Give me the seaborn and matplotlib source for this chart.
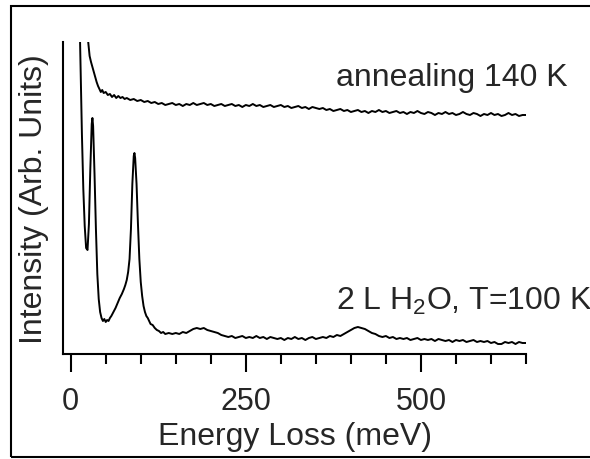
import pandas as pd
import matplotlib
matplotlib.use("Agg")
import matplotlib.pyplot as plt
import seaborn as sns
from matplotlib.patches import Rectangle
from matplotlib.ticker import MultipleLocator

# spectrum 1: 2 L H2O at 100 K (lower trace)
low_energy = [10, 12, 14, 16, 18, 20, 22, 24, 26, 28,
              30, 31, 32, 34, 36, 38, 40, 42, 44, 46,
              48, 50, 52, 54, 56, 58, 61, 64, 67, 70,
              73, 76, 78, 80, 82, 84, 86, 88, 90, 91,
              92, 94, 96, 98, 100, 102, 104, 106, 108, 110,
              112, 114, 117, 120, 123, 126, 129, 132, 135,
              140, 145, 150, 155, 160, 165, 170, 175, 180, 185,
              190, 195, 200, 205, 210, 215, 220, 225, 230, 235,
              240, 245, 250, 255, 260, 265, 270, 275, 280, 285,
              290, 295, 300, 305, 310, 315, 320, 325, 330, 335,
              340, 345, 350, 355, 360, 365, 370, 375, 380, 385,
              390, 395, 400, 405, 410, 415, 420, 425, 430, 435,
              440, 445, 450, 455, 460, 465, 470, 475, 480, 485,
              490, 495, 500, 505, 510, 515, 520, 525, 530, 535,
              540, 545, 550, 555, 560, 565, 570, 575, 580, 585,
              590, 595, 600, 605, 610, 615, 620, 625, 630, 635,
              640, 645, 650]
low_intensity = [420, 360, 290, 220, 165, 128, 106, 104, 130, 185,
                 230, 236, 228, 180, 125, 80, 55, 42, 36, 33,
                 35, 32, 34, 33, 36, 38, 42, 46, 51, 56,
                 60, 65, 69, 74, 82, 95, 125, 170, 198, 201,
                 196, 170, 130, 95, 72, 58, 48, 42, 38, 36,
                 33, 30, 29, 26, 24, 23, 21, 22, 20,
                 21, 20, 21, 20, 22, 21, 23, 25, 26, 25,
                 26, 24, 23, 22, 21, 19, 18, 17, 18, 16,
                 17, 18, 16, 17, 16, 18, 16, 17, 15, 17,
                 16, 15, 16, 14, 16, 15, 17, 15, 16, 14,
                 16, 17, 15, 16, 17, 16, 18, 17, 19, 18,
                 20, 22, 24, 26, 27, 26, 25, 23, 21, 20,
                 18, 17, 18, 16, 17, 15, 16, 15, 16, 14,
                 15, 16, 14, 15, 14, 15, 13, 15, 14, 13,
                 14, 12, 14, 13, 14, 12, 13, 14, 12, 13,
                 12, 13, 11, 12, 10, 10, 12, 11, 12, 10,
                 12, 11, 11]

# spectrum 2: after annealing to 140 K (upper trace)
high_energy = [23, 25, 27, 29, 31, 33, 35, 37, 39, 41,
               43, 45, 47, 50, 53, 56, 59, 62, 65, 68,
               71, 74, 77, 80,
               85, 90, 95, 100, 105, 110, 115, 120, 125, 130,
               135, 140, 145, 150, 155, 160, 165, 170, 175, 180,
               185, 190, 195, 200, 205, 210, 215, 220, 225, 230,
               235, 240, 245, 250, 255, 260, 265, 270, 275, 280,
               285, 290, 295, 300, 305, 310, 315, 320, 325, 330,
               335, 340, 345, 350, 355, 360, 365, 370, 375, 380,
               385, 390, 395, 400, 405, 410, 415, 420, 425, 430,
               435, 440, 445, 450, 455, 460, 465, 470, 475, 480,
               485, 490, 495, 500, 505, 510, 515, 520, 525, 530,
               535, 540, 545, 550, 555, 560, 565, 570, 575, 580,
               585, 590, 595, 600, 605, 610, 615, 620, 625, 630,
               635, 640, 645, 650]
high_intensity = [335, 312, 298, 292, 287, 282, 277, 272, 268, 265,
                  262, 264, 261, 262, 259, 260, 257, 259, 256, 258,
                  256, 257, 255, 256,
                  254, 255, 253, 254, 252, 253, 251, 252, 250, 251,
                  249, 250, 251, 249, 250, 248, 250, 249, 251, 249,
                  250, 251, 249, 250, 248, 249, 250, 248, 249, 250,
                  248, 249, 247, 249, 248, 250, 248, 249, 247, 248,
                  249, 247, 248, 249, 247, 248, 246, 247, 248, 246,
                  247, 245, 247, 246, 245, 246, 244, 245, 243, 244,
                  245, 243, 244, 242, 243, 244, 242, 243, 241, 243,
                  242, 244, 242, 243, 241, 242, 243, 241, 242, 240,
                  242, 241, 243, 241, 240, 242, 241, 239, 241, 240,
                  242, 240, 241, 239, 240, 242, 240, 239, 241, 240,
                  238, 240, 239, 241, 239, 240, 238, 239, 241, 239,
                  240, 238, 239, 239]

df_low = pd.DataFrame({"energy": low_energy, "intensity": low_intensity})
df_high = pd.DataFrame({"energy": high_energy, "intensity": high_intensity})

sns.set_style("ticks")
plt.rcParams['font.family'] = ['Liberation Sans', 'DejaVu Sans']
plt.rcParams['mathtext.default'] = 'regular'

fig = plt.figure(figsize=(5.9, 4.6), dpi=100)
ax = fig.add_axes([63/590, 1 - 355/460, (526 - 63)/590, (355 - 43)/460])

sns.lineplot(data=df_low, x="energy", y="intensity", color="black", lw=1.4, sort=False, ax=ax)
sns.lineplot(data=df_high, x="energy", y="intensity", color="black", lw=1.4, sort=False, ax=ax)

ax.set_xlim(-11, 650)
ax.set_ylim(0, 312)
sns.despine(ax=ax)
for s in ["left", "bottom"]:
    ax.spines[s].set_linewidth(1.5)
    ax.spines[s].set_color("black")

ax.set_yticks([])
ax.xaxis.set_major_locator(MultipleLocator(250))
ax.xaxis.set_minor_locator(MultipleLocator(50))
ax.tick_params(axis="x", which="major", length=13, width=1.5, labelsize=22, pad=10,
               direction="out", color="black")
ax.tick_params(axis="x", which="minor", length=7, width=1.5, direction="out", color="black")

ax.set_xlabel("Energy Loss (meV)", fontsize=23, labelpad=4)
ax.set_ylabel("Intensity (Arb. Units)", fontsize=23, labelpad=10)

ax.text(379, 269, "annealing 140 K", fontsize=23, ha="left", va="baseline")
ax.text(379, 45, "2 L H$_2$O, T=100 K", fontsize=23, ha="left", va="baseline", clip_on=False)

fig.add_artist(Rectangle((11/590, 2/460), 1.2, 451/460, transform=fig.transFigure,
                         fill=False, lw=1.5, ec="black"))

fig.savefig("out.png", dpi=100)
